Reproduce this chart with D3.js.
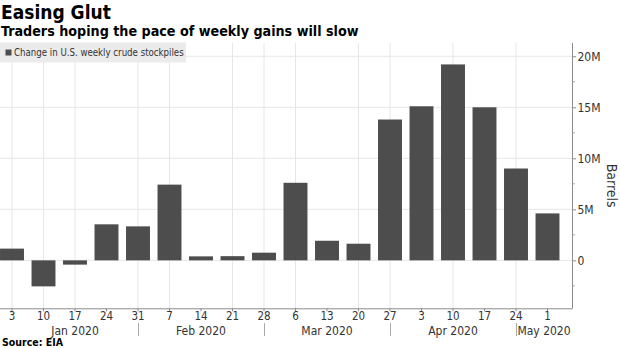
<!DOCTYPE html>
<html>
<head>
<meta charset="utf-8">
<script src="https://cdn.jsdelivr.net/npm/d3@7"></script>
<style>
  html, body { margin: 0; padding: 0; background: #fff; }
  svg { display: block; }
  text { font-family: 'DejaVu Sans Condensed', 'DejaVu Sans', sans-serif; font-stretch: condensed; }
</style>
</head>
<body>
<script>
// ---- Data ----
const weeks = ["2020-01-03","2020-01-10","2020-01-17","2020-01-24","2020-01-31",
  "2020-02-07","2020-02-14","2020-02-21","2020-02-28",
  "2020-03-06","2020-03-13","2020-03-20","2020-03-27",
  "2020-04-03","2020-04-10","2020-04-17","2020-04-24","2020-05-01"];
const dayLabels = ["3","10","17","24","31","7","14","21","28","6","13","20","27","3","10","17","24","1"];
const stockChange = [1.15, -2.55, -0.42, 3.53, 3.33, 7.42, 0.39, 0.41, 0.75,
  7.6, 1.92, 1.63, 13.8, 15.1, 19.2, 15.0, 9.0, 4.6]; // million barrels
const gridWeeks = ["2020-01-03","2020-01-10","2020-01-17","2020-01-31","2020-02-07",
  "2020-02-21","2020-02-28","2020-03-06","2020-03-20","2020-03-27","2020-04-10","2020-04-24"];
const monthLabels = ["Jan 2020","Feb 2020","Mar 2020","Apr 2020","May 2020"];
const monthStartWeek = ["2020-01-03", "2020-01-31", "2020-02-28", "2020-03-27", "2020-04-24"];
const yTicks = [0, 5, 10, 15, 20];
const yTickLabels = ["0", "5M", "10M", "15M", "20M"];
const yMinorTicks = [-2.5, 2.5, 7.5, 12.5, 17.5];
const seriesName = "Change in U.S. weekly crude stockpiles";

// ---- Layout ----
const W = 620, H = 348;
const plotL = 0, plotR = 572, plotT = 43, plotB = 308.3;
const barColor = "#4d4d4d";
const FONT = "'DejaVu Sans Condensed', 'DejaVu Sans', sans-serif";

const svg = d3.select("body").append("svg").attr("width", W).attr("height", H);

const x = d3.scaleBand().domain(weeks).range([-3.75, 563.25]).paddingInner(0.24).paddingOuter(0.12);
const xc = d => x(d) + x.bandwidth() / 2;
const y = d3.scaleLinear().domain([-4.7, 21.3]).range([plotB, plotT]);

// Titles
svg.append("text").attr("x", 1).attr("y", 18.5).attr("font-size", 19).attr("font-weight", "bold")
  .attr("fill", "#000").text("Easing Glut");
svg.append("text").attr("x", 1).attr("y", 36.2).attr("font-size", 14.2).attr("font-weight", "bold")
  .attr("fill", "#000").text("Traders hoping the pace of weekly gains will slow");

// Gridlines
const grid = svg.append("g");
grid.selectAll("line.h").data(yTicks).join("line")
  .attr("x1", plotL).attr("x2", plotR).attr("y1", d => y(d)).attr("y2", d => y(d))
  .attr("stroke", "#e6e6e6").attr("stroke-width", 1);
grid.selectAll("line.v").data(gridWeeks).join("line")
  .attr("x1", d => xc(d)).attr("x2", d => xc(d)).attr("y1", plotT).attr("y2", plotB)
  .attr("stroke", "#e6e6e6").attr("stroke-width", 1);

// Bars
svg.append("g").selectAll("rect").data(weeks).join("rect")
  .attr("x", d => x(d)).attr("width", x.bandwidth())
  .attr("y", (d, i) => y(Math.max(0, stockChange[i])))
  .attr("height", (d, i) => Math.abs(y(stockChange[i]) - y(0)))
  .attr("fill", barColor);

// Legend
const leg = svg.append("g");
leg.append("rect").attr("x", 0).attr("y", 42.5).attr("width", 186).attr("height", 20).attr("fill", "#ebebeb");
leg.append("rect").attr("x", 5.5).attr("y", 49.5).attr("width", 6).attr("height", 6).attr("fill", barColor);
leg.append("text").attr("x", 14).attr("y", 56).attr("font-size", 9.6).attr("fill", "#333").text(seriesName);

// Y axis (right)
const yAxis = d3.axisRight(y).tickValues(yTicks).tickSize(4).tickPadding(1.5)
  .tickFormat((d, i) => yTickLabels[i]);
const ya = svg.append("g").attr("transform", `translate(${plotR},0)`).call(yAxis);
ya.select(".domain").attr("d", `M0.5,${plotT}V${plotB}`).attr("stroke", "#8c8c8c");
ya.selectAll(".tick line").attr("stroke", "#8c8c8c").attr("x1", 0);
ya.selectAll(".tick text").attr("font-size", 12).attr("fill", "#333").style("font-family", FONT);
ya.append("g").selectAll("line").data(yMinorTicks).join("line")
  .attr("x1", 0.5).attr("x2", 3).attr("y1", d => y(d)).attr("y2", d => y(d)).attr("stroke", "#aaa");

svg.append("text").attr("transform", `translate(607,${(plotT + plotB) / 2 + 10}) rotate(90)`)
  .attr("text-anchor", "middle").attr("font-size", 14).attr("fill", "#333").text("Barrels");

// X axis
const xAxis = d3.axisBottom(x).tickSize(3).tickPadding(2).tickFormat((d, i) => dayLabels[i]);
const xa = svg.append("g").attr("transform", `translate(0,${plotB})`).call(xAxis);
xa.select(".domain").attr("d", `M${plotL},0.5H${plotR + 0.5}`).attr("stroke", "#8c8c8c");
xa.selectAll(".tick line").attr("stroke", "#8c8c8c");
xa.selectAll(".tick text").attr("font-size", 11.5).attr("fill", "#333").style("font-family", FONT)
  .attr("y", 11.5).attr("dy", 0);

// Month separators and labels
const bounds = monthStartWeek.map(d => xc(d));
const sepG = svg.append("g");
sepG.selectAll("line").data(monthStartWeek.slice(1)).join("line")
  .attr("x1", d => xc(d) + 0.5).attr("x2", d => xc(d) + 0.5).attr("y1", 323).attr("y2", 336)
  .attr("stroke", "#aaa");
sepG.selectAll("text").data(monthLabels).join("text")
  .attr("x", (d, i) => (bounds[i] + (i + 1 < bounds.length ? bounds[i + 1] : plotR)) / 2)
  .attr("y", 334.5).attr("text-anchor", "middle").attr("font-size", 12).attr("fill", "#333").text(d => d);

// Source
svg.append("text").attr("x", 2).attr("y", 346).attr("font-size", 10.5).attr("font-weight", "bold")
  .attr("fill", "#000").text("Source: EIA");
</script>
</body>
</html>
